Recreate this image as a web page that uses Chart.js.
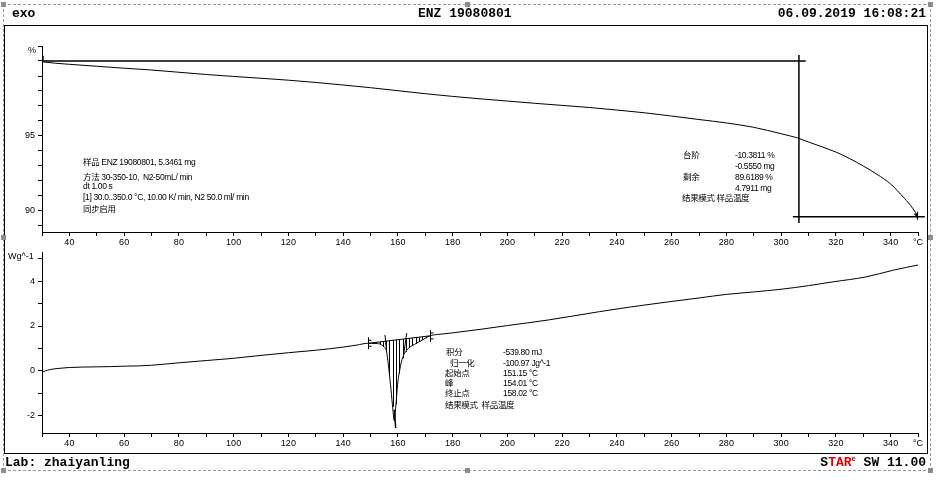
<!DOCTYPE html>
<html>
<head>
<meta charset="utf-8">
<title>ENZ 19080801 TGA/DSC</title>
<script src="https://cdn.jsdelivr.net/npm/chart.js@4/dist/chart.umd.min.js"></script>
<style>
  html, body { margin: 0; padding: 0; background: #fff; }
  #page { position: relative; width: 940px; height: 482px; overflow: hidden;
          font-family: "Liberation Sans", "Noto Sans CJK SC", sans-serif; color: #000; }
  canvas { position: absolute; left: 0; top: 0; }
  .frame { position: absolute; left: 4px; top: 25px; width: 924px; height: 429px;
           box-sizing: border-box; border: 1px solid #000; }
  .outer { position: absolute; left: 3px; top: 4px; width: 928px; height: 467px;
           box-sizing: border-box; border: 1px dashed #9a9a9a; }
  .handle { position: absolute; width: 5px; height: 5px; background: #8c8c8c; }
  .hdr { position: absolute; font-family: "Liberation Mono", monospace; font-weight: bold;
         font-size: 13px; line-height: 14px; white-space: pre; z-index: 3; }
  .note { position: absolute; font-size: 8.5px; line-height: 10px; letter-spacing: -0.35px;
          white-space: pre; z-index: 3; }
  .unit { position: absolute; font-size: 9px; line-height: 10px; white-space: pre; z-index: 3; }
  .red { color: #e00000; }
</style>
</head>
<body>
<div id="page">
  <div class="outer"></div>
  <div class="frame"></div>
  <div class="handle" style="left:1px;top:2px"></div>
  <div class="handle" style="left:465px;top:2px"></div>
  <div class="handle" style="left:928px;top:2px"></div>
  <div class="handle" style="left:1px;top:235px"></div>
  <div class="handle" style="left:928px;top:235px"></div>
  <div class="handle" style="left:1px;top:468px"></div>
  <div class="handle" style="left:465px;top:468px"></div>
  <div class="handle" style="left:928px;top:468px"></div>

  <canvas id="tga" width="940" height="482"></canvas>
  <canvas id="dsc" width="940" height="482"></canvas>

  <div class="hdr" style="left:12px;top:7px">exo</div>
  <div class="hdr" style="left:418px;top:7px">ENZ 19080801</div>
  <div class="hdr" style="right:14px;top:7px">06.09.2019 16:08:21</div>
  <div class="hdr" style="left:5px;top:456px">Lab: zhaiyanling</div>
  <div class="hdr" style="right:14px;top:456px">S<span class="red">TAR</span><sup class="red" style="font-size:7px;line-height:0">e</sup> SW 11.00</div>

  <div class="unit" style="left:28px;top:45px">%</div>
  <div class="unit" style="left:8px;top:251px">Wg^-1</div>

  <div id="notes"></div>
</div>

<script>
// ---- TGA curve: mass (%) vs temperature (°C)
const tgaTemp = [30, 35, 40, 50, 60, 70, 80, 90, 100, 110, 120, 130, 140, 150, 160, 170, 180,
                 190, 200, 210, 220, 230, 240, 250, 260, 270, 280, 290, 300, 306, 310, 320,
                 325, 330, 335, 340, 345, 348, 350];
const tgaMass = [99.95, 99.85, 99.78, 99.65, 99.52, 99.40, 99.25, 99.10, 98.97, 98.85, 98.72,
                 98.57, 98.40, 98.22, 98.02, 97.82, 97.64, 97.48, 97.33, 97.18, 97.04, 96.90,
                 96.73, 96.55, 96.33, 96.10, 95.87, 95.58, 95.15, 94.87, 94.60, 93.93, 93.50,
                 93.00, 92.45, 91.80, 90.85, 90.20, 89.6189];

// ---- DSC curve: heat flow (W/g) vs temperature (°C)
const dscTemp = [30, 30.5, 32, 34, 37, 40, 45, 50, 55, 60, 65, 70, 80, 90, 100, 110, 120, 130,
                 140, 145, 149, 152, 154, 155, 155.8, 156.5, 157.3, 158, 158.7, 159.3, 159.9,
                 160.7, 161.5, 162.5, 164, 166.8, 169, 171.6, 175, 179, 190, 200, 215, 233.6,
                 245, 259, 270, 280, 290, 300, 310, 319, 331, 341, 350];
const dscFlow = [-0.08, -0.04, 0.03, 0.08, 0.12, 0.15, 0.17, 0.18, 0.19, 0.21, 0.22, 0.25, 0.36,
                 0.46, 0.56, 0.69, 0.81, 0.92, 1.06, 1.15, 1.23, 1.22, 1.17, 1.05, 0.90, 0.30,
                 -0.60, -1.50, -2.22, -1.50, -0.60, 0.05, 0.50, 0.79, 1.02, 1.23, 1.38, 1.56,
                 1.63, 1.68, 1.85, 2.02, 2.27, 2.64, 2.85, 3.08, 3.25, 3.41, 3.52, 3.64, 3.80,
                 3.97, 4.19, 4.49, 4.72];

// ---- evaluation results
const stepResult = [-10.3811, -0.5550];      // step: %, mg
const residueResult = [89.6189, 4.7911];     // residue: %, mg
const tgaStepTemps = [30, 309, 306.5, 304.3, 352.5]; // upper line end, vertical, lower line span
const dscIntegral = [-539.80, -100.97];      // mJ, J/g
const dscTemps = [151.15, 154.01, 158.02];   // onset, peak, endset
const dscBaselineT = [149.1, 171.6];         // integration limits
const dscOnsetTangent = [[155.3, 1.60], [155.9, 0.86]];
const dscEndsetTangent = [[163.2, 1.68], [162.2, 0.79]];
const dscPeakMark = [[158.7, -1.73], [159.2, -2.55]];

// ---- axes
const tempRange = [30, 350];
const tgaRange = [88.6, 101];
const dscRange = [-2.77, 5.3];
const tgaLabelTicks = [90, 95];
const dscLabelTicks = [-2, 0, 2, 4];

const pts = (xs, ys) => xs.map((x, i) => ({ x: x, y: ys[i] }));
function interp(xs, ys, x) {
  for (let i = 1; i < xs.length; i++) {
    if (x <= xs[i]) {
      const t = (x - xs[i - 1]) / (xs[i] - xs[i - 1]);
      return ys[i - 1] + t * (ys[i] - ys[i - 1]);
    }
  }
  return ys[ys.length - 1];
}

const tickFont = { family: "'Liberation Sans', sans-serif", size: 9 };
const PLOT_LEFT = 42, PLOT_RIGHT_PAD = 22, X_AXIS_H = 20;

function xScale() {
  return {
    type: 'linear', min: tempRange[0], max: tempRange[1],
    afterFit: s => { s.height = X_AXIS_H; s.paddingLeft = 0; s.paddingRight = 0; },
    ticks: {
      stepSize: 10, autoSkip: false, maxRotation: 0, minRotation: 0, includeBounds: false,
      padding: 1, color: '#000', font: tickFont,
      callback: v => (v === tempRange[1] ? '°C' : (v % 20 === 0 ? String(v) : ''))
    },
    grid: { drawOnChartArea: false, drawTicks: true, tickLength: 4, tickColor: '#000' },
    border: { display: true, color: '#000', width: 1 }
  };
}
function yScale(range, labelled) {
  return {
    type: 'linear', min: range[0], max: range[1],
    afterFit: s => { s.width = PLOT_LEFT; s.paddingTop = 0; s.paddingBottom = 0; },
    ticks: {
      stepSize: 1, autoSkip: false, includeBounds: false, padding: 3, color: '#000', font: tickFont,
      callback: v => (labelled.includes(v) ? String(v) : '')
    },
    grid: { drawOnChartArea: false, drawTicks: true, tickLength: 4, tickColor: '#000' },
    border: { display: true, color: '#000', width: 1 }
  };
}

const lineStyle = { borderColor: '#000', borderWidth: 1, pointRadius: 0, fill: false };
const guideStyle = { borderColor: '#000', borderWidth: 1.5, pointRadius: 0, fill: false, clip: false, tension: 0 };

// Small limit markers drawn on top of the curves
const tgaMarks = {
  id: 'tgaMarks',
  afterDatasetsDraw(chart) {
    const c = chart.ctx, xs = chart.scales.x, ys = chart.scales.y;
    c.save();
    c.strokeStyle = '#000'; c.lineWidth = 1.2;
    const x0 = xs.getPixelForValue(tgaTemp[0] + 0.4), y0 = ys.getPixelForValue(tgaMass[0]);
    c.beginPath(); c.moveTo(x0, y0 - 6); c.lineTo(x0, y0 - 1); c.stroke();
    const n = tgaTemp.length - 1;
    const x1 = xs.getPixelForValue(tgaTemp[n] - 0.2), y1 = ys.getPixelForValue(tgaMass[n]);
    c.beginPath(); c.moveTo(x1, y1 - 5); c.lineTo(x1, y1 + 3);
    c.moveTo(x1 - 3, y1 - 3); c.lineTo(x1, y1); c.stroke();
    c.restore();
  }
};

const dscMarks = {
  id: 'dscMarks',
  afterDatasetsDraw(chart) {
    const c = chart.ctx, xs = chart.scales.x, ys = chart.scales.y;
    const b0 = interp(dscTemp, dscFlow, dscBaselineT[0]);
    const b1 = interp(dscTemp, dscFlow, dscBaselineT[1]);
    const base = t => b0 + (b1 - b0) * (t - dscBaselineT[0]) / (dscBaselineT[1] - dscBaselineT[0]);
    c.save();
    c.strokeStyle = '#000'; c.lineWidth = 1;
    // hatching of the integrated peak area
    for (let t = dscBaselineT[0] + 0.6; t < dscBaselineT[1]; t += 1.2) {
      const x = Math.round(xs.getPixelForValue(t)) + 0.5;
      c.beginPath();
      c.moveTo(x, ys.getPixelForValue(base(t)));
      c.lineTo(x, ys.getPixelForValue(interp(dscTemp, dscFlow, t)));
      c.stroke();
    }
    // integration limit markers
    [[dscBaselineT[0], b0], [dscBaselineT[1], b1]].forEach(([t, v]) => {
      const x = Math.round(xs.getPixelForValue(t)) + 0.5, y = ys.getPixelForValue(v);
      c.beginPath();
      c.moveTo(x, y - 6); c.lineTo(x, y + 6);
      c.moveTo(x, y - 3); c.lineTo(x + 3, y - 3);
      c.moveTo(x, y + 3); c.lineTo(x + 3, y + 3);
      c.stroke();
    });
    c.restore();
  }
};

new Chart(document.getElementById('tga'), {
  type: 'line',
  data: {
    datasets: [
      Object.assign({ data: pts(tgaTemp, tgaMass), cubicInterpolationMode: 'monotone' }, lineStyle),
      Object.assign({ data: [{ x: tgaStepTemps[0], y: 100 }, { x: tgaStepTemps[1], y: 100 }] }, guideStyle),
      Object.assign({ data: [{ x: tgaStepTemps[2], y: 100.4 }, { x: tgaStepTemps[2], y: 89.2 }] }, guideStyle),
      Object.assign({ data: [{ x: tgaStepTemps[3], y: residueResult[0] }, { x: tgaStepTemps[4], y: residueResult[0] }] }, guideStyle)
    ]
  },
  options: {
    responsive: false, animation: false, events: [],
    layout: { padding: { left: 0, right: PLOT_RIGHT_PAD, top: 46, bottom: 482 - 232 - X_AXIS_H } },
    plugins: { legend: { display: false }, tooltip: { enabled: false } },
    scales: { x: xScale(), y: yScale(tgaRange, tgaLabelTicks) }
  },
  plugins: [tgaMarks]
});

const seg = p => [{ x: p[0][0], y: p[0][1] }, { x: p[1][0], y: p[1][1] }];
new Chart(document.getElementById('dsc'), {
  type: 'line',
  data: {
    datasets: [
      Object.assign({ data: pts(dscTemp, dscFlow), cubicInterpolationMode: 'monotone' }, lineStyle),
      Object.assign({ data: dscBaselineT.map(t => ({ x: t, y: interp(dscTemp, dscFlow, t) })) }, lineStyle, { tension: 0 }),
      Object.assign({ data: seg(dscOnsetTangent) }, lineStyle, { tension: 0 }),
      Object.assign({ data: seg(dscEndsetTangent) }, lineStyle, { tension: 0 }),
      Object.assign({ data: seg(dscPeakMark) }, lineStyle, { tension: 0, borderWidth: 1.5 })
    ]
  },
  options: {
    responsive: false, animation: false, events: [],
    layout: { padding: { left: 0, right: PLOT_RIGHT_PAD, top: 252, bottom: 482 - 433 - X_AXIS_H } },
    plugins: { legend: { display: false }, tooltip: { enabled: false } },
    scales: { x: xScale(), y: yScale(dscRange, dscLabelTicks) }
  },
  plugins: [dscMarks]
});

// ---- evaluation text blocks
const fmt = (v, d) => v.toFixed(d);
const notes = [
  [83, 157, '样品 ENZ 19080801, 5.3461 mg'],
  [83, 171.5, '方法 30-350-10,  N2-50mL/ min'],
  [83, 181, 'dt 1.00 s'],
  [83, 192, '[1] 30.0..350.0 °C, 10.00 K/ min, N2 50.0 ml/ min'],
  [83, 204, '同步启用'],
  [683, 150, '台阶'],
  [735, 150, fmt(stepResult[0], 4) + ' %'],
  [735, 160.5, fmt(stepResult[1], 4) + ' mg'],
  [683, 171.5, '剩余'],
  [735, 171.5, fmt(residueResult[0], 4) + ' %'],
  [735, 183, fmt(residueResult[1], 4) + ' mg'],
  [682, 193, '结果模式 样品温度'],
  [446, 346.5, '积分'],
  [503, 346.5, fmt(dscIntegral[0], 2) + ' mJ'],
  [450, 357.5, '归一化'],
  [503, 357.5, fmt(dscIntegral[1], 2) + ' Jg^-1'],
  [445, 367.5, '起始点'],
  [503, 367.5, fmt(dscTemps[0], 2) + ' °C'],
  [445, 377.5, '峰'],
  [503, 377.5, fmt(dscTemps[1], 2) + ' °C'],
  [445, 388, '终止点'],
  [503, 388, fmt(dscTemps[2], 2) + ' °C'],
  [445, 399.5, '结果模式  样品温度']
];
const box = document.getElementById('notes');
notes.forEach(([x, y, text]) => {
  const d = document.createElement('div');
  d.className = 'note';
  d.style.left = x + 'px';
  d.style.top = y + 'px';
  d.textContent = text;
  box.appendChild(d);
});
</script>
</body>
</html>
